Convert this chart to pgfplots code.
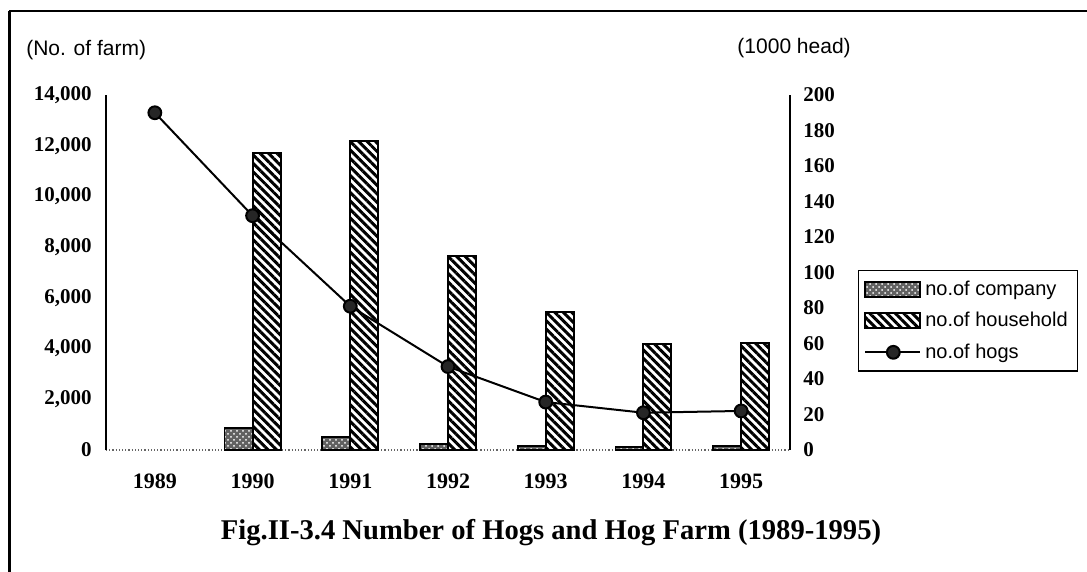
\documentclass[border=0pt]{standalone}
\usepackage{fontspec}
\setmainfont{Liberation Serif}
\newfontfamily\lsans{Liberation Sans}
\usepackage{pgfplots}
\usepackage{pgfplotstable}
\pgfplotsset{compat=1.18}
\usetikzlibrary{patterns,patterns.meta}

\pgfplotstableread{
x company household
1 870 11700
2 520 12200
3 240 7650
4 160 5450
5 130 4180
6 150 4220
}\farmdata
\pgfplotstableread{
x hogs
0 190
1 132
2 81
3 47
4 27
5 21
6 22
}\hogdata

\tikzset{
 compstyle/.style={draw=black, line width=0.9pt, fill=black!62, postaction={pattern=crosshatch dots, pattern color=white}},
 housestyle/.style={draw=black, line width=1pt, pattern={Lines[angle=-45,distance=3pt,line width=1.5pt]}, pattern color=black},
}
\pgfplotsset{
 boxleg/.style={legend image code/.code={\draw[##1] (0pt,-3.75pt) rectangle (27.5pt,3.75pt);}},
 lineleg/.style={legend image code/.code={\draw[##1,mark repeat=2,mark phase=2] plot coordinates {(0pt,0pt) (14pt,0pt) (27.5pt,0pt)};}},
}

\begin{document}
\begin{tikzpicture}
\useasboundingbox (0,0) rectangle (543.5pt,-286pt);
\begin{axis}[
 at={(53pt,-225pt)}, anchor=south west,
 scale only axis, width=342pt, height=177.5pt,
 xmin=-0.5, xmax=6.5, ymin=0, ymax=14000,
 separate axis lines,
 axis y line*=left, axis x line*=bottom,
 axis line style={-},
 y axis line style={line width=1.3pt},
 x axis line style={densely dotted, black!60, line width=0.6pt},
 ytick={0,2000,4000,6000,8000,10000,12000,14000},
 xtick={0,1,2,3,4,5,6},
 xticklabels={1989,1990,1991,1992,1993,1994,1995},
 tick style={draw=none},
 scaled y ticks=false,
 /pgf/number format/assume math mode=true,
 /pgf/number format/1000 sep={,},
 yticklabel style={anchor=east, inner sep=0pt, xshift=-7pt, font=\bfseries\fontsize{10.5}{12}\selectfont},
 xticklabel style={anchor=north, inner sep=0pt, yshift=-7.5pt, font=\bfseries\fontsize{11}{13}\selectfont},
 ybar=0pt, bar width=14pt,
 clip=false,
]
\addplot[compstyle] table[x=x,y=company]{\farmdata};
\addplot[housestyle] table[x=x,y=household]{\farmdata};
\node[font=\lsans\fontsize{10.5}{12}\selectfont] at (axis description cs:-0.029,1.127) {(No. of farm)};
\node[font=\lsans\fontsize{10.5}{12}\selectfont] at (axis description cs:1.006,1.132) {(1000 head)};
\node[font=\bfseries\fontsize{14.3}{16}\selectfont, anchor=base] at (axis description cs:0.6506,-0.2535) {Fig.II-3.4 Number of Hogs and Hog Farm (1989-1995)};
\end{axis}
\begin{axis}[
 at={(53pt,-225pt)}, anchor=south west,
 scale only axis, width=342pt, height=177.5pt,
 xmin=-0.5, xmax=6.5, ymin=0, ymax=200,
 axis y line*=right, axis x line=none,
 axis line style={-, line width=1.3pt},
 ytick={0,20,40,60,80,100,120,140,160,180,200},
 tick style={draw=none},
 /pgf/number format/assume math mode=true,
 yticklabel style={anchor=west, inner sep=0pt, xshift=6.5pt, font=\bfseries\fontsize{10.5}{12}\selectfont},
 clip=false,
 legend style={at={(1.099,0.507)}, anchor=north west, draw=black, line width=0.6pt,
   font=\lsans\fontsize{10}{12}\selectfont, cells={anchor=west}, row sep=3pt, inner sep=3pt},
]
\addlegendimage{compstyle, boxleg}
\addlegendentry{no.of company}
\addlegendimage{housestyle, boxleg}
\addlegendentry{no.of household}
\addplot[black, line width=1pt, mark=*, mark size=3.2pt, mark options={fill=black!85, draw=black, solid}, lineleg]
  table[x=x,y=hogs]{\hogdata};
\addlegendentry{no.of hogs}
\end{axis}
\draw[line width=1.5pt] (4.5pt,-286pt) -- (4.5pt,-5.5pt);
\draw[line width=1pt] (4.5pt,-5.5pt) -- (543.5pt,-5.5pt);
\end{tikzpicture}
\end{document}
